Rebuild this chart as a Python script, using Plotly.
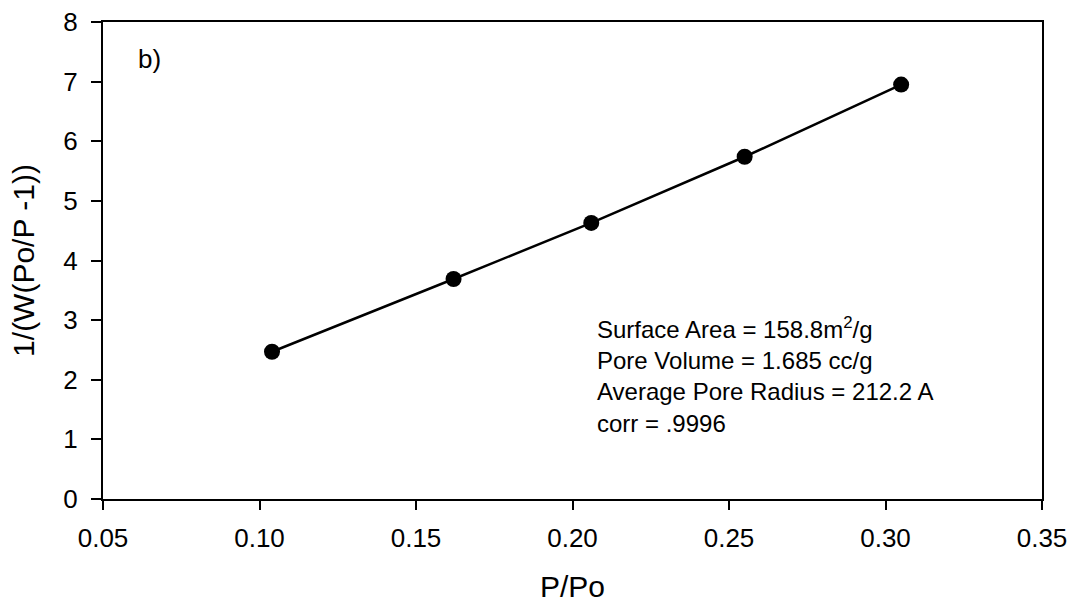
import plotly.graph_objects as go

# Data
p_po = [0.104, 0.162, 0.206, 0.255, 0.305]
inv_w = [2.47, 3.69, 4.63, 5.74, 6.95]

x_ticks = [0.05, 0.10, 0.15, 0.20, 0.25, 0.30, 0.35]
x_tick_labels = ["0.05", "0.10", "0.15", "0.20", "0.25", "0.30", "0.35"]
y_ticks = [0, 1, 2, 3, 4, 5, 6, 7, 8]

info_lines = [
    "Surface Area = 158.8m<sup>2</sup>/g",
    "Pore Volume = 1.685 cc/g",
    "Average Pore Radius = 212.2 A",
    "corr = .9996",
]

FONT = "Liberation Sans, Arial, sans-serif"

fig = go.Figure()
fig.add_trace(go.Scatter(
    x=p_po, y=inv_w, mode="lines+markers",
    line=dict(color="black", width=2.5),
    marker=dict(color="black", size=16),
    showlegend=False, hoverinfo="skip",
))

fig.update_layout(
    width=1072, height=606,
    margin=dict(l=103, r=30, t=22, b=107),
    paper_bgcolor="white", plot_bgcolor="white",
    font=dict(family=FONT, color="black", size=26),
)

fig.update_xaxes(
    range=[0.05, 0.35], tickvals=x_ticks, ticktext=x_tick_labels,
    automargin=False,
    showgrid=False, zeroline=False,
    showline=True, linecolor="black", linewidth=2, mirror=True,
    ticks="outside", ticklen=9, tickwidth=2, tickcolor="black",
    ticklabelstandoff=6,
    tickfont=dict(size=26),
    title=dict(text="P/Po", font=dict(size=30), standoff=24),
)
fig.update_yaxes(
    range=[0, 8], tickvals=y_ticks,
    automargin=False,
    showgrid=False, zeroline=False,
    showline=True, linecolor="black", linewidth=2, mirror=True,
    ticks="outside", ticklen=10, tickwidth=2, tickcolor="black",
    ticklabelstandoff=8,
    tickfont=dict(size=26),
    title=dict(text="1/(W(Po/P -1))", font=dict(size=30), standoff=20),
)

fig.add_annotation(
    x=0.0, y=1.0, xref="paper", yref="paper",
    text="b)", showarrow=False, xanchor="left", yanchor="middle",
    xshift=33, yshift=-37, font=dict(size=26),
)

fig.add_annotation(
    x=0.2072, y=2.08, xref="x", yref="y",
    text="<br>".join(info_lines), showarrow=False,
    xanchor="left", yanchor="middle", align="left",
    font=dict(size=24),
)

fig.write_html(
    "out.html",
    config={"displayModeBar": False},
    post_script="document.body.style.margin='0';document.body.style.padding='0';",
)
